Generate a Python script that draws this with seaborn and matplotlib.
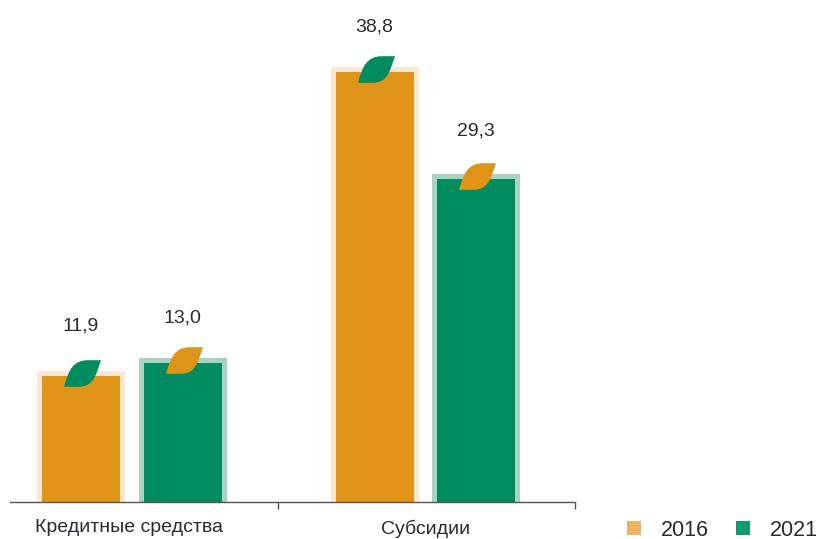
import matplotlib
matplotlib.use('Agg')
import matplotlib.pyplot as plt
from matplotlib.patches import Patch
from matplotlib.path import Path
import pandas as pd
import seaborn as sns

categories = ["Кредитные средства", "Субсидии"]
years = ["2016", "2021"]
values_2016 = [11.9, 38.8]
values_2021 = [13.0, 29.3]

BAR_COLORS = {"2016": "#E09417", "2021": "#008C5E"}
HALO_COLORS = {"2016": "#F9E8CF", "2021": "#A9D2C0"}
LEAF_COLORS = {"2016": "#008C5E", "2021": "#E09417"}
LEGEND_COLORS = {"2016": "#EDB45F", "2021": "#0F9A73"}
TEXT_COLOR = "#2B2A33"

# Gap between bar top and value label, in points (differs per label in the original)
LABEL_OFFSETS = {"2016": [33.5, 30.2], "2021": [30, 32.2]}

# Leaf sticker that sits on top of every bar
LEAF = Path(
    [(-1, -0.72), (-0.22, -0.72), (0.6, -0.72), (0.72, -0.1), (1, 0.72),
     (0.32, 0.72), (-0.52, 0.72), (-0.74, 0.2), (-1, -0.72), (-1, -0.72)],
    [Path.MOVETO, Path.LINETO, Path.CURVE4, Path.CURVE4, Path.CURVE4,
     Path.LINETO, Path.CURVE4, Path.CURVE4, Path.CURVE4, Path.CLOSEPOLY],
)

sns.set_theme(style="white")
plt.rcParams['font.family'] = ['Liberation Sans', 'DejaVu Sans']

df = pd.DataFrame({
    "category": categories * 2,
    "year": [years[0]] * 2 + [years[1]] * 2,
    "value": values_2016 + values_2021,
})

fig = plt.figure(figsize=(8.18, 5.39), dpi=100)
ax = fig.add_axes([10 / 818, 37 / 539, 565 / 818, 502 / 539])

sns.barplot(data=df, x="category", y="value", hue="year", palette=BAR_COLORS,
            saturation=1, width=0.692, gap=0.182, legend=False, ax=ax)

ax.set_xlim(-0.414, 1.511)
ax.set_ylim(0.44, 44.87)

for year, container, offsets in zip(years, ax.containers, LABEL_OFFSETS.values()):
    for bar, offset in zip(container, offsets):
        bar.set_edgecolor(HALO_COLORS[year])
        bar.set_linewidth(3.6)
        x = bar.get_x() + bar.get_width() / 2
        value = bar.get_height()
        ax.plot(x + 0.005, value, marker=LEAF, markersize=26.6, markeredgewidth=0,
                color=LEAF_COLORS[year], zorder=5)
        ax.annotate(f"{value:.1f}".replace(".", ","), (x, value), xytext=(0, offset),
                    textcoords="offset points", ha="center", va="center",
                    fontsize=14, color=TEXT_COLOR)

sns.despine(ax=ax, left=True)
ax.spines["bottom"].set_color("#555555")
ax.spines["bottom"].set_linewidth(1.0)
ax.set_xlabel("")
ax.set_ylabel("")
ax.set_yticks([])
ax.set_xticks([-0.007, 1.003], categories)
ax.set_xticks([0.5, 1.511], minor=True)
ax.tick_params(axis="x", which="major", length=0, pad=12.5, labelsize=14, labelcolor=TEXT_COLOR)
ax.tick_params(axis="x", which="minor", length=5, width=1.0, color="#555555", bottom=True)
ax.grid(False)

handles = [Patch(facecolor=LEGEND_COLORS[y], edgecolor="none", label=y) for y in years]
fig.legend(handles=handles, loc="center left", bbox_to_anchor=(627 / 818, 1 - 530 / 539),
           ncol=2, frameon=False, fontsize=15.5, labelcolor=TEXT_COLOR,
           handlelength=0.65, handleheight=0.65, handletextpad=0.93,
           columnspacing=1.25, borderpad=0, borderaxespad=0)

fig.savefig("out.png", dpi=100)
plt.close(fig)
